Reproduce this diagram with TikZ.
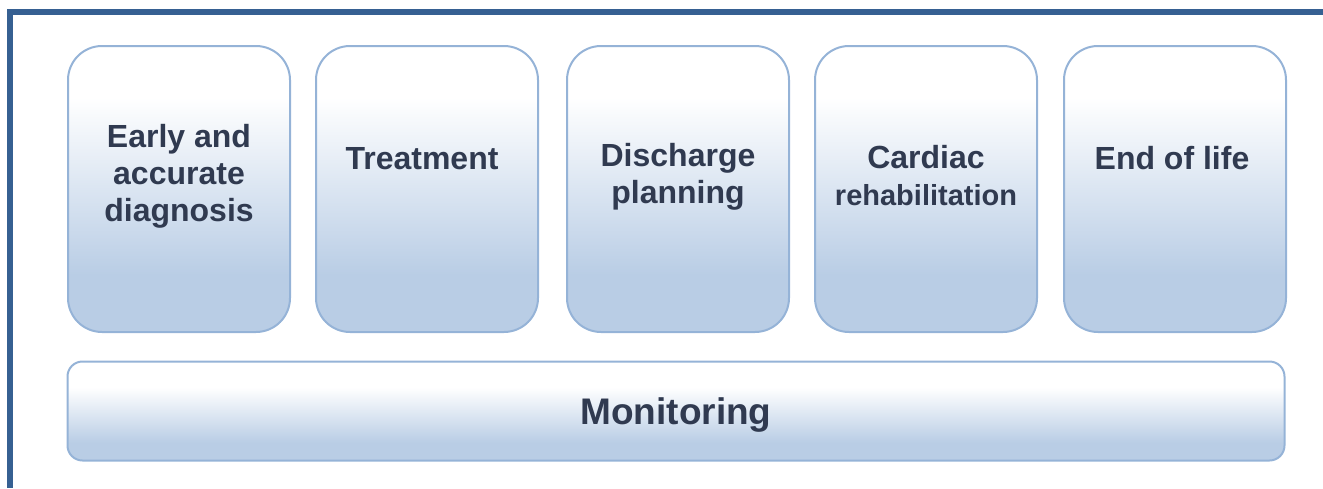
\documentclass[tikz,border=0pt]{standalone}
\usepackage{fontspec}
\setmainfont{Liberation Sans}
\definecolor{framec}{RGB}{54,96,146}
\definecolor{edgec}{RGB}{149,179,215}
\definecolor{fillb}{RGB}{185,205,229}
\definecolor{txtc}{RGB}{48,58,80}
\pgfdeclareverticalshading{tallsh}{100bp}{color(0bp)=(fillb); color(25bp)=(fillb); color(35bp)=(fillb); color(66bp)=(white); color(75bp)=(white); color(100bp)=(white)}
\pgfdeclareverticalshading{widesh}{100bp}{color(0bp)=(fillb); color(25bp)=(fillb); color(34bp)=(fillb); color(62bp)=(white); color(75bp)=(white); color(100bp)=(white)}
\begin{document}
\begin{tikzpicture}[x=1pt,y=-1pt,
  stagebox/.style={draw=edgec, line width=2pt, rounded corners=34pt, shading=tallsh,
    minimum width=222pt, minimum height=286pt, inner sep=0pt, outer sep=0pt},
  monbox/.style={draw=edgec, line width=2pt, rounded corners=15pt, shading=widesh,
    minimum width=1217pt, minimum height=99pt, inner sep=0pt, outer sep=0pt},
  lbl/.style={text=txtc, font=\bfseries\fontsize{32}{37}\selectfont, align=center, inner sep=0pt},
  framel/.style={draw=framec, line width=5.5pt}]
\useasboundingbox (0,0) rectangle (1323,488);
\coordinate (ftop) at (1323,12);
\coordinate (fcorner) at (10,12);
\coordinate (fbot) at (10,488);
\draw[framel] (ftop) -- (fcorner) -- (fbot);
\node[stagebox] (b1) at (179,189) {};
\node[stagebox] (b2) at (427,189) {};
\node[stagebox] (b3) at (678,189) {};
\node[stagebox] (b4) at (926,189) {};
\node[stagebox] (b5) at (1175,189) {};
\node[monbox] (mon) at (676,411) {};
\node[lbl] (t1) at (179,176.5) {Early and\\accurate\\diagnosis};
\node[lbl] (t2) at (422,158.5) {Treatment};
\node[lbl] (t3) at (678,176.5) {Discharge\\planning};
\node[lbl] (t4) at (926,176) {Cardiac\\{\fontsize{29}{37}\selectfont rehabilitation}};
\node[lbl] (t5) at (1172,158.5) {End of life};
\node[lbl, font=\bfseries\fontsize{37}{42}\selectfont] (tm) at (676,415) {Monitoring};
\end{tikzpicture}
\end{document}
